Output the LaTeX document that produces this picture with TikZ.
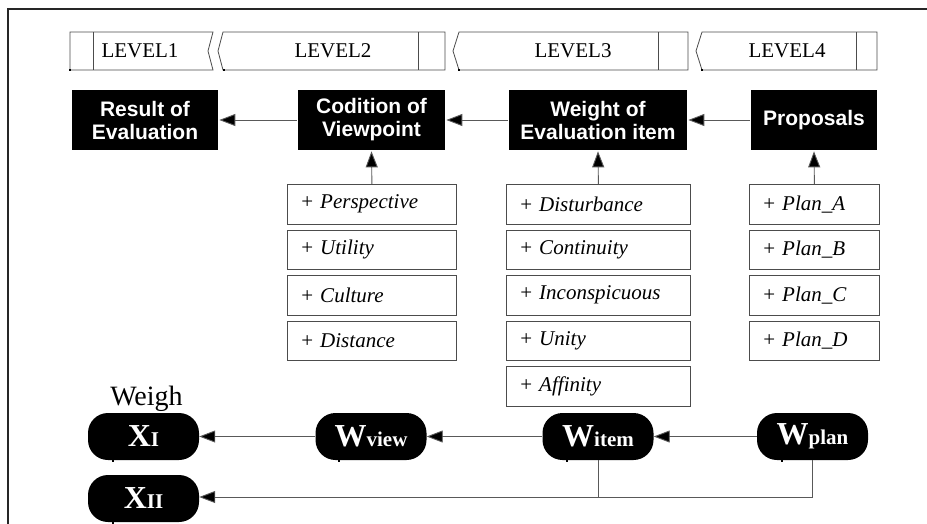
\documentclass[tikz,border=0pt]{standalone}
\usepackage{fontspec}
\setmainfont{Liberation Serif}
\setsansfont{Liberation Sans}
\usetikzlibrary{arrows.meta}
\begin{document}
\begin{tikzpicture}[x=1pt,y=-1pt,
  conn/.style={draw=black!65, line width=0.9pt, -{Triangle[length=16pt,width=12pt,fill=black]}},
  plainconn/.style={draw=black!65, line width=0.9pt},
  banner/.style={draw=black!70, line width=0.8pt, fill=white},
  bannertext/.style={font=\fontsize{21}{22}\selectfont, inner sep=0pt},
  blackbox/.style={draw=black!55, line width=0.7pt, double=white, double distance=1.3pt, fill=black, text=white,
    font=\sffamily\bfseries\fontsize{21}{23}\selectfont, align=center, minimum height=62pt, inner sep=0pt},
  itembox/.style={draw=black!70, line width=0.8pt, fill=white, anchor=north west, align=left,
    inner xsep=14pt, inner ysep=0pt, minimum height=39.5pt, font=\fontsize{21}{22}\selectfont},
  capsule/.style={fill=black, rounded corners=20pt, minimum width=111pt, minimum height=47pt,
    text=white, inner sep=0pt, font=\bfseries},
  tick/.style={fill=black}
]
\useasboundingbox (0,0) rectangle (927,523);
% outer frame
\draw[black!85, line width=1.6pt] (8,9) rectangle (940,540);

% level banners
\draw[banner] (70,32) -- (213,32) -- (208,51) -- (213,70) -- (70,70) -- cycle;
\draw[banner] (93,32) -- (93,70);
\node[bannertext] (lv1) at (140,51) {LEVEL1};
\draw[banner] (223,32) -- (445,32) -- (445,70) -- (223,70) -- (218,51) -- cycle;
\draw[banner] (418,32) -- (418,70);
\node[bannertext] (lv2) at (333,51) {LEVEL2};
\draw[banner] (459,32) -- (688,32) -- (688,70) -- (459,70) -- (453,51) -- cycle;
\draw[banner] (658,32) -- (658,70);
\node[bannertext] (lv3) at (573,51) {LEVEL3};
\draw[banner] (702,32) -- (877,32) -- (877,70) -- (702,70) -- (696,51) -- cycle;
\draw[banner] (856,32) -- (856,70);
\node[bannertext] (lv4) at (787,51) {LEVEL4};
\foreach \xx in {70,224,459,702} \fill[tick] (\xx-1.2,68.8) rectangle (\xx+1.2,71.2);

% black boxes
\node[blackbox, minimum width=148pt] (res) at (145,120) {Result of\\Evaluation};
\node[blackbox, minimum width=149pt] (cond) at (371.5,120) {Codition of\\Viewpoint};
\node[blackbox, minimum width=180pt] (wei) at (598,120) {Weight of\\Evaluation item};
\node[blackbox, minimum width=128pt] (prop) at (814,120) {Proposals};

\draw[conn] (cond) -- (res);
\draw[conn] (wei) -- (cond);
\draw[conn] (prop) -- (wei);

% item lists
\node[itembox, text width=141pt] (pa) at (287,184) {+ \textit{Perspective}};
\node[itembox, text width=141pt] (pb) at (287,229.5) {+ \textit{Utility}};
\node[itembox, text width=141pt] (pc) at (287,275) {+ \textit{Culture}};
\node[itembox, text width=141pt] (pd) at (287,320.5) {+ \textit{Distance}};

\node[itembox, text width=156pt] (wa) at (506,184) {+ \textit{Disturbance}};
\node[itembox, text width=156pt] (wb) at (506,229.5) {+ \textit{Continuity}};
\node[itembox, text width=156pt] (wc) at (506,275) {+ \textit{Inconspicuous}};
\node[itembox, text width=156pt] (wd) at (506,320.5) {+ \textit{Unity}};
\node[itembox, text width=156pt] (we) at (506,366) {+ \textit{Affinity}};

\node[itembox, text width=102pt] (la) at (749,184) {+ \textit{Plan\_A}};
\node[itembox, text width=102pt] (lb) at (749,229.5) {+ \textit{Plan\_B}};
\node[itembox, text width=102pt] (lc) at (749,275) {+ \textit{Plan\_C}};
\node[itembox, text width=102pt] (ld) at (749,320.5) {+ \textit{Plan\_D}};

\draw[conn] (pa.north) -- (cond.south);
\draw[conn] (wa.north) -- (wei.south);
\draw[conn] (la.north) -- (prop.south);

% weigh row
\node[font=\fontsize{28}{30}\selectfont, anchor=base, inner sep=0pt] (weigh) at (146.5,405) {Weigh};

\node[capsule] (x1) at (143.5,436.5) {{\fontsize{32}{32}\selectfont X}{\fontsize{21}{21}\selectfont I}};
\node[capsule] (wv) at (371,436.5) {{\fontsize{32}{32}\selectfont W}{\fontsize{21}{21}\selectfont view}};
\node[capsule] (wi) at (598,436.5) {{\fontsize{32}{32}\selectfont W}{\fontsize{21}{21}\selectfont item}};
\node[capsule] (wp) at (812.5,436.5) {{\fontsize{32}{32}\selectfont W}{\fontsize{21}{21}\selectfont plan}};
\node[capsule] (x2) at (143.5,498.5) {{\fontsize{32}{32}\selectfont X}{\fontsize{21}{21}\selectfont II}};
\foreach \xx in {113,339,567,782} \fill[tick] (\xx-1.2,459) rectangle (\xx+1.2,462);
\fill[tick] (113-1.2,521) rectangle (113+1.2,524);

\draw[conn] (wv) -- (x1);
\draw[conn] (wi) -- (wv);
\draw[conn] (wp) -- (wi);
\coordinate (jn) at (wp.south |- 0,497);
\coordinate (ji) at (wi.south |- 0,497);
\draw[plainconn] (wi.south) -- (ji);
\draw[conn] (wp.south) -- (jn) -- (x2.east |- jn);
\end{tikzpicture}
\end{document}
